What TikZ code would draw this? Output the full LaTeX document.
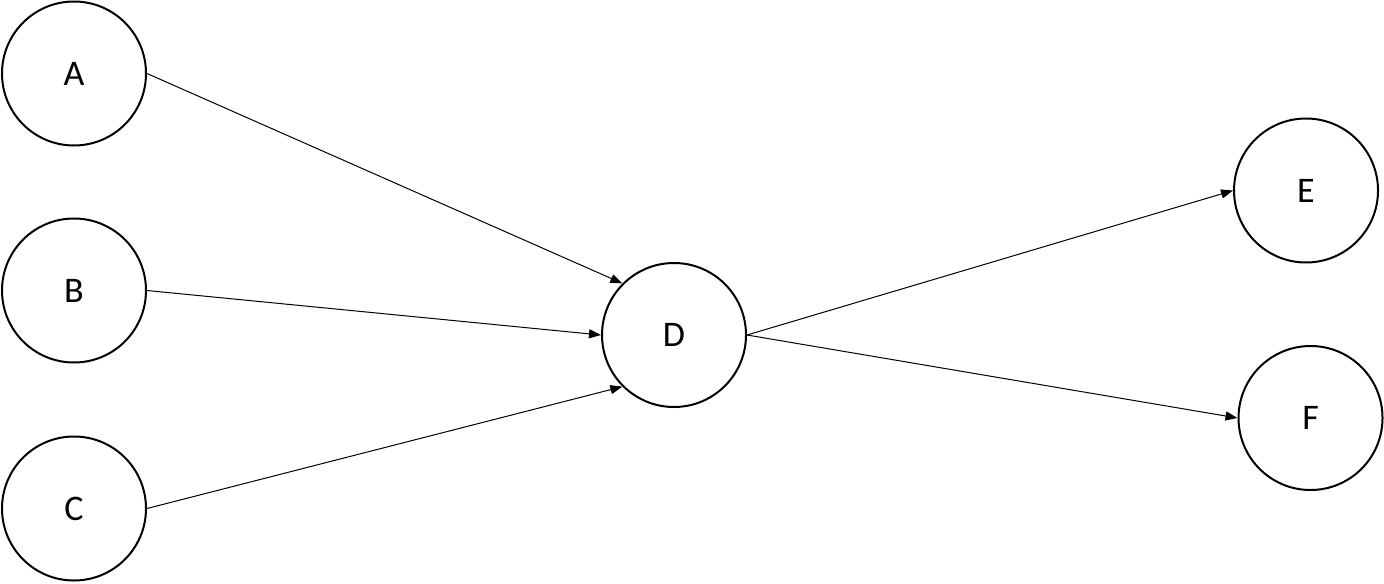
\documentclass[tikz,border=0pt]{standalone}
\usepackage{fontspec}
\setmainfont{Carlito}
\usetikzlibrary{arrows.meta}
\begin{document}
\begin{tikzpicture}[x=0.5pt,y=-0.5pt,
  vertex/.style={circle,draw,line width=1pt,minimum size=72pt,inner sep=0pt,font=\fontsize{18}{20}\selectfont},
  link/.style={line width=0.5pt,-{Triangle[length=6pt,width=4.5pt]}}]
\useasboundingbox (0,0) rectangle (1384,583);
\node[vertex] (A) at (74,73.5) {A};
\node[vertex] (B) at (74,290.5) {B};
\node[vertex] (C) at (74,508.5) {C};
\node[vertex] (D) at (674,335) {D};
\node[vertex] (E) at (1306,190.5) {E};
\node[vertex] (F) at (1310.5,418) {F};
\draw[link] (A.east) -- (D.north west);
\draw[link] (B.east) -- (D.west);
\draw[link] (C.east) -- (D.south west);
\draw[link] (D.east) -- (E.west);
\draw[link] (D.east) -- (F.west);
\end{tikzpicture}
\end{document}
